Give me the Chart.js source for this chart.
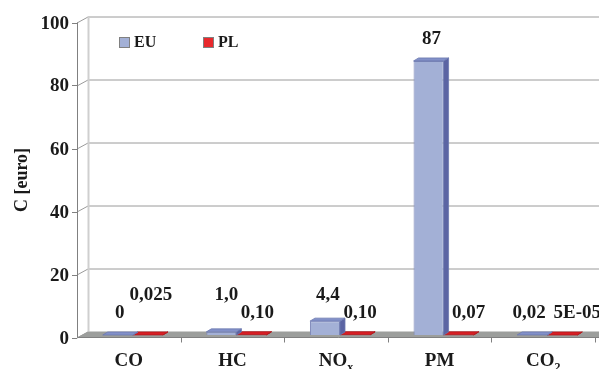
<!DOCTYPE html>
<html>
<head>
<meta charset="utf-8">
<script src="https://cdn.jsdelivr.net/npm/chart.js@4/dist/chart.umd.min.js"></script>
<style>
  html, body { margin: 0; padding: 0; background: #fff; }
  canvas { display: block; }
</style>
</head>
<body>
<canvas id="chart" width="599" height="369"></canvas>
<script>
// --- Data ---
const categories = ['CO', 'HC', 'NOx', 'PM', 'CO2'];
const euValues = [0, 1.0, 4.4, 87, 0.02];
const plValues = [0.025, 0.10, 0.10, 0.07, 0.00005];
const euLabels = ['0', '1,0', '4,4', '87', '0,02'];
const plLabels = ['0,025', '0,10', '0,10', '0,07', '5E-05'];
const yTicks = [0, 20, 40, 60, 80, 100];

const SERIF = '"Liberation Serif", "Times New Roman", serif';

// 3D offsets relative to the bar front plane
const FRONT = { dx: -4, dy: 2.5 };
const BACK = { dx: 7, dy: -3.5 };
const DEPTH = { dx: 5, dy: -3 };

const faces = [
  { side: '#5b64a3', top: '#8290c8', line: '#6c78b0' },
  { side: '#a01418', top: '#d81e24', line: '#b01a1e' }
];

// label placement tweaks (Excel put them by hand)
const labelPlace = [
  { dx: [2, 5, 3, 3, -3], raised: [false, true, true, false, false] },
  { dx: [3, 6, 5, 10, 15], raised: [true, false, false, false, false] }
];

function subText(ctx, text, x, y, size) {
  // draws "NOx" / "CO2" with the last char as subscript, centered at x
  const main = text.slice(0, -1);
  const sub = text.slice(-1);
  ctx.font = `bold ${size}px ${SERIF}`;
  const w1 = ctx.measureText(main).width;
  ctx.font = `bold ${Math.round(size * 0.65)}px ${SERIF}`;
  const w2 = ctx.measureText(sub).width;
  let sx = x - (w1 + w2) / 2;
  ctx.textAlign = 'left';
  ctx.font = `bold ${size}px ${SERIF}`;
  ctx.fillText(main, sx, y);
  ctx.font = `bold ${Math.round(size * 0.65)}px ${SERIF}`;
  ctx.fillText(sub, sx + w1, y + 5);
}

const box3d = {
  id: 'box3d',
  beforeDatasetsDraw(chart) {
    const { ctx, scales: { x, y }, chartArea } = chart;
    const y0 = y.getPixelForValue(0);
    const yTop = y.getPixelForValue(100);
    const fx = chartArea.left + FRONT.dx;
    const bx = chartArea.left + BACK.dx;
    ctx.save();

    // gridlines on back wall + diagonal on left wall
    ctx.strokeStyle = '#9a9a9a';
    ctx.lineWidth = 1;
    yTicks.forEach(v => {
      const py = Math.round(y.getPixelForValue(v)) + 0.5;
      ctx.beginPath();
      ctx.moveTo(fx, py + FRONT.dy);
      ctx.lineTo(bx, py + BACK.dy);
      if (v > 0) ctx.lineTo(chart.width, py + BACK.dy);
      ctx.stroke();
    });

    // back wall left edge
    ctx.strokeStyle = '#cfcfcf';
    ctx.lineWidth = 2;
    ctx.beginPath();
    ctx.moveTo(bx + 0.5, yTop + BACK.dy);
    ctx.lineTo(bx + 0.5, y0 + BACK.dy);
    ctx.stroke();

    // floor
    ctx.fillStyle = '#9c9e9c';
    ctx.beginPath();
    ctx.moveTo(fx, y0 + FRONT.dy);
    ctx.lineTo(bx, y0 + BACK.dy);
    ctx.lineTo(chart.width, y0 + BACK.dy);
    ctx.lineTo(chart.width, y0 + FRONT.dy);
    ctx.closePath();
    ctx.fill();

    // front axes
    ctx.strokeStyle = '#808080';
    ctx.lineWidth = 1;
    ctx.beginPath();
    ctx.moveTo(fx + 0.5, yTop + FRONT.dy);
    ctx.lineTo(fx + 0.5, y0 + FRONT.dy);
    ctx.lineTo(chart.width, y0 + FRONT.dy);
    ctx.stroke();

    // y ticks + labels
    ctx.fillStyle = '#1a1a1a';
    ctx.font = `bold 19px ${SERIF}`;
    ctx.textAlign = 'right';
    ctx.textBaseline = 'middle';
    yTicks.forEach(v => {
      const py = Math.round(y.getPixelForValue(v) + FRONT.dy) + 0.5;
      ctx.beginPath();
      ctx.moveTo(fx - 5, py);
      ctx.lineTo(fx, py);
      ctx.stroke();
      ctx.fillText(String(v), fx - 8, py + 1);
    });

    // x category ticks + labels
    const step = x.width / categories.length;
    ctx.textBaseline = 'alphabetic';
    for (let i = 0; i <= categories.length; i++) {
      const px = Math.round(x.left + FRONT.dx + step * i) + 0.5;
      if (i > 0) {
        ctx.beginPath();
        ctx.moveTo(px, y0 + FRONT.dy);
        ctx.lineTo(px, y0 + FRONT.dy + 5);
        ctx.stroke();
      }
    }
    categories.forEach((c, i) => {
      const cx = x.getPixelForValue(i) + FRONT.dx;
      const ly = 366;
      if (c === 'NOx' || c === 'CO2') {
        subText(ctx, c, cx, ly, 19);
      } else {
        ctx.textAlign = 'center';
        ctx.font = `bold 19px ${SERIF}`;
        ctx.fillText(c, cx, ly);
      }
    });

    // axis title
    ctx.save();
    ctx.translate(27, 180);
    ctx.rotate(-Math.PI / 2);
    ctx.textAlign = 'center';
    ctx.font = `bold 18px ${SERIF}`;
    ctx.fillText('C [euro]', 0, 0);
    ctx.restore();

    // legend
    ctx.font = `bold 16px ${SERIF}`;
    ctx.textAlign = 'left';
    ctx.textBaseline = 'middle';
    const legX = [119, 203];
    chart.data.datasets.forEach((ds, i) => {
      ctx.fillStyle = ds.backgroundColor;
      ctx.fillRect(legX[i], 37, 11, 11);
      ctx.strokeStyle = '#808080';
      ctx.strokeRect(legX[i] + 0.5, 37.5, 10, 10);
      ctx.fillStyle = '#1a1a1a';
      ctx.fillText(ds.label, legX[i] + 15, 43);
    });

    ctx.restore();
  },
  afterDatasetDraw(chart, args) {
    const { ctx } = chart;
    const f = faces[args.index];
    const meta = args.meta;
    ctx.save();
    ctx.lineWidth = 0.8;
    meta.data.forEach(bar => {
      const l = bar.x - bar.width / 2;
      const r = bar.x + bar.width / 2;
      const t = bar.y;
      const b = bar.base;
      // side
      ctx.fillStyle = f.side;
      ctx.strokeStyle = f.line;
      ctx.beginPath();
      ctx.moveTo(r, t);
      ctx.lineTo(r + DEPTH.dx, t + DEPTH.dy);
      ctx.lineTo(r + DEPTH.dx, b + DEPTH.dy);
      ctx.lineTo(r, b);
      ctx.closePath();
      ctx.fill();
      ctx.stroke();
      // top
      ctx.fillStyle = f.top;
      ctx.beginPath();
      ctx.moveTo(l, t);
      ctx.lineTo(l + DEPTH.dx, t + DEPTH.dy);
      ctx.lineTo(r + DEPTH.dx, t + DEPTH.dy);
      ctx.lineTo(r, t);
      ctx.closePath();
      ctx.fill();
      ctx.stroke();
    });
    ctx.restore();
  },
  afterDatasetsDraw(chart) {
    const { ctx, scales: { y } } = chart;
    const base = y.getPixelForValue(0);
    const texts = [euLabels, plLabels];
    ctx.save();
    ctx.fillStyle = '#1a1a1a';
    ctx.font = `bold 19px ${SERIF}`;
    ctx.textAlign = 'center';
    ctx.textBaseline = 'middle';
    chart.data.datasets.forEach((ds, di) => {
      const meta = chart.getDatasetMeta(di);
      const place = labelPlace[di];
      meta.data.forEach((bar, i) => {
        const cy = Math.min(bar.y - 22, base - 22 - (place.raised[i] ? 18 : 0));
        ctx.fillText(texts[di][i], bar.x + place.dx[i], cy);
      });
    });
    ctx.restore();
  }
};

new Chart(document.getElementById('chart'), {
  type: 'bar',
  data: {
    labels: categories,
    datasets: [
      {
        label: 'EU',
        data: euValues,
        backgroundColor: '#a3b0d6',
        borderColor: '#7d88b8',
        borderWidth: 1,
        barPercentage: 1.0,
        categoryPercentage: 0.58
      },
      {
        label: 'PL',
        data: plValues,
        backgroundColor: '#e8282c',
        borderColor: '#b01a1e',
        borderWidth: 1,
        barPercentage: 1.0,
        categoryPercentage: 0.58
      }
    ]
  },
  options: {
    responsive: false,
    animation: false,
    layout: { padding: { left: 81, right: 0, top: 20, bottom: 34 } },
    plugins: {
      legend: { display: false },
      tooltip: { enabled: false }
    },
    scales: {
      x: { display: false, offset: true },
      y: { display: false, min: 0, max: 100, ticks: { stepSize: 20 } }
    }
  },
  plugins: [box3d]
});
</script>
</body>
</html>
